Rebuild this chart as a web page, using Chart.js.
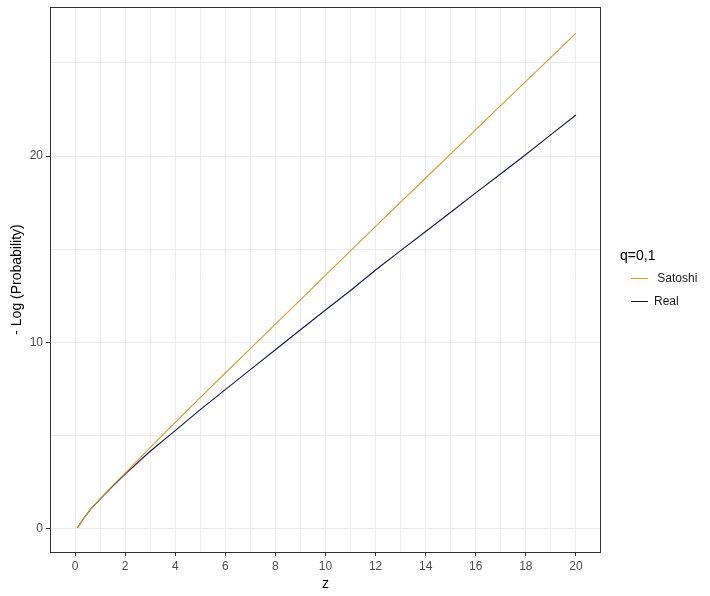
<!DOCTYPE html>
<html>
<head>
<meta charset="utf-8">
<script src="https://cdn.jsdelivr.net/npm/chart.js@4.4.1/dist/chart.umd.min.js"></script>
<style>
  html, body { margin: 0; padding: 0; background: #fff; }
  canvas { display: block; }
</style>
</head>
<body>
<canvas id="chart" width="710" height="596"></canvas>
<script>
// values
const zValues = [0.1, 0.3, 0.6, 1, 1.5, 2, 3, 4, 5, 6, 7, 8, 9, 10, 11, 12, 13, 14, 15, 16, 17, 18, 19, 20];
const satoshi = [0.05, 0.46, 1.0, 1.59, 2.3, 2.98, 4.34, 5.7, 7.03, 8.35, 9.66, 10.97, 12.28, 13.6, 14.91, 16.22, 17.52, 18.82, 20.12, 21.42, 22.72, 24.01, 25.3, 26.6];
const real = [0.05, 0.46, 1.0, 1.58, 2.27, 2.92, 4.15, 5.26, 6.38, 7.46, 8.53, 9.6, 10.67, 11.73, 12.78, 13.88, 14.92, 15.95, 16.98, 18.02, 19.05, 20.08, 21.15, 22.2];
const seriesNames = [' Satoshi', 'Real'];
const xTickLabels = [0, 2, 4, 6, 8, 10, 12, 14, 16, 18, 20];
const yTickLabels = [0, 10, 20];

Chart.defaults.font.family = '"Liberation Sans", Arial, sans-serif';

function points(ys) {
  return zValues.map((z, i) => ({x: z, y: ys[i]}));
}

// theme_bw style box round the panel
const panelBorder = {
  id: 'panelBorder',
  afterDatasetsDraw(chart) {
    const {ctx, chartArea: a} = chart;
    ctx.save();
    ctx.strokeStyle = '#333333';
    ctx.lineWidth = 1;
    ctx.strokeRect(a.left + 0.5, a.top + 0.5, a.right - a.left - 1, a.bottom - a.top);
    ctx.restore();
  }
};

const gridColor = (lo, hi) => (c) => {
  const v = c.tick ? c.tick.value : 0;
  return (v < lo || v > hi) ? 'rgba(0,0,0,0)' : '#ebebeb';
};
const tickColor = (labels) => (c) => {
  const v = c.tick ? c.tick.value : null;
  return labels.includes(v) ? '#333333' : 'rgba(0,0,0,0)';
};
const noPad = (s) => { s.paddingTop = 0; s.paddingBottom = 0; s.paddingLeft = 0; s.paddingRight = 0; };

new Chart(document.getElementById('chart').getContext('2d'), {
  type: 'line',
  data: {
    datasets: [
      {
        label: seriesNames[0],
        data: points(satoshi),
        borderColor: '#d59a2a',
        backgroundColor: '#d59a2a',
        borderWidth: 1.1,
        pointRadius: 0,
        tension: 0
      },
      {
        label: seriesNames[1],
        data: points(real),
        borderColor: '#141450',
        backgroundColor: '#141450',
        borderWidth: 1.1,
        pointRadius: 0,
        tension: 0
      }
    ]
  },
  options: {
    responsive: false,
    animation: false,
    layout: { padding: { left: 0, top: 7, right: 6, bottom: 0 } },
    plugins: {
      tooltip: { enabled: false },
      legend: {
        position: 'right',
        align: 'start',
        maxWidth: 84,
        title: {
          display: true,
          text: 'q=0,1',
          position: 'start',
          color: '#000000',
          font: { size: 14, lineHeight: '12px' },
          padding: { top: 242.5, bottom: 0 }
        },
        labels: {
          boxWidth: 17,
          boxHeight: 1,
          padding: 11,
          color: '#1a1a1a',
          font: { size: 12 },
          generateLabels(chart) {
            const items = Chart.defaults.plugins.legend.labels.generateLabels(chart);
            items.forEach(it => { it.lineWidth = 0; it.fillStyle = it.strokeStyle; });
            return items;
          }
        }
      }
    },
    scales: {
      x: {
        type: 'linear',
        position: 'bottom',
        min: -1,
        max: 21,
        afterFit(s) { s.height = 44; noPad(s); },
        border: { display: false },
        grid: {
          color: gridColor(-0.5, 20.5),
          lineWidth: 1,
          tickLength: 4,
          tickColor: tickColor(xTickLabels)
        },
        ticks: {
          stepSize: 1,
          autoSkip: false,
          maxRotation: 0,
          includeBounds: false,
          padding: 3,
          color: '#4d4d4d',
          font: { size: 12 },
          callback: (v) => xTickLabels.includes(v) ? String(v) : ''
        },
        title: {
          display: true,
          text: 'z',
          color: '#000000',
          font: { size: 14 },
          padding: { top: 0, bottom: 3 }
        }
      },
      y: {
        type: 'linear',
        position: 'left',
        min: -1.26,
        max: 28.0,
        afterFit(s) { s.width = 50; noPad(s); },
        border: { display: false },
        grid: {
          color: gridColor(-0.5, 27),
          lineWidth: 1,
          tickLength: 4,
          tickColor: tickColor(yTickLabels)
        },
        ticks: {
          stepSize: 5,
          includeBounds: false,
          padding: 3,
          color: '#4d4d4d',
          font: { size: 12 },
          callback: (v) => yTickLabels.includes(v) ? String(v) : ''
        },
        title: {
          display: true,
          text: '- Log (Probability)',
          color: '#000000',
          font: { size: 14 },
          padding: { top: 9, bottom: 0 }
        }
      },
      pad: {
        type: 'linear',
        position: 'right',
        display: true,
        afterFit(s) { s.width = 19; noPad(s); },
        border: { display: false },
        grid: { display: false },
        ticks: { display: false }
      }
    }
  },
  plugins: [panelBorder]
});
</script>
</body>
</html>
